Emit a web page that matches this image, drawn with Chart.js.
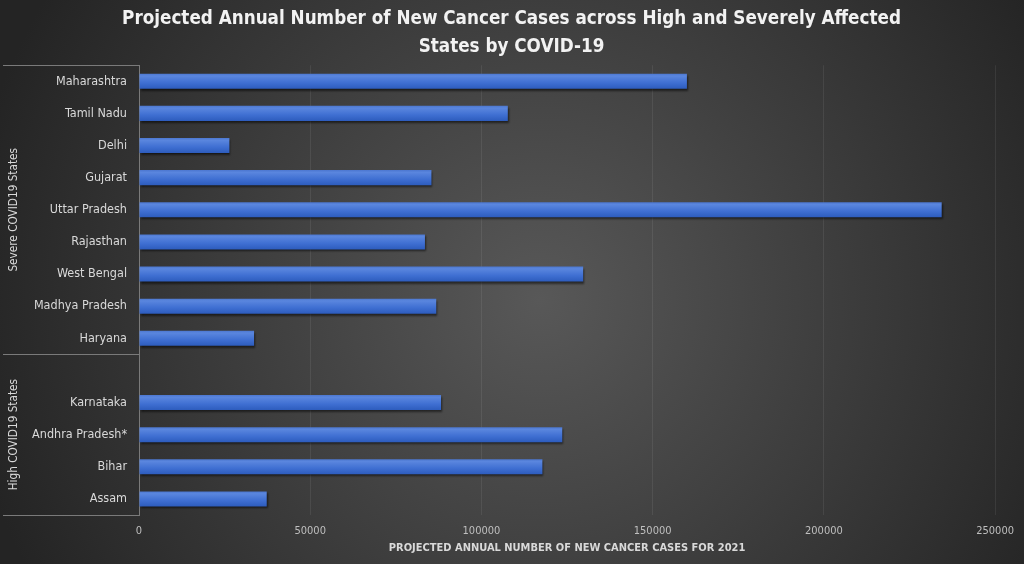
<!DOCTYPE html>
<html>
<head>
<meta charset="utf-8">
<script src="https://cdn.jsdelivr.net/npm/chart.js@4/dist/chart.umd.min.js"></script>
<style>
  html, body { margin: 0; padding: 0; background: #2b2b2b; }
  #wrap { width: 1024px; height: 564px; }
</style>
</head>
<body>
<div id="wrap"><canvas id="casesChart"></canvas></div>
<script>
// Chart data
const states = ['Maharashtra', 'Tamil Nadu', 'Delhi', 'Gujarat', 'Uttar Pradesh', 'Rajasthan',
    'West Bengal', 'Madhya Pradesh', 'Haryana', '', 'Karnataka', 'Andhra Pradesh*', 'Bihar', 'Assam'];
const newCases = [160000, 107700, 26400, 85400, 234400, 83500,
    129700, 86800, 33600, null, 88200, 123600, 117800, 37300];
const groupLabels = ['Severe COVID19 States', 'High COVID19 States'];
const groupStart = [0, 9];
const groupEnd = [8, 13];
const xTicks = [0, 50000, 100000, 150000, 200000, 250000];

const FONT = '"Liberation Sans Narrow", "DejaVu Sans Condensed", "Open Sans", sans-serif';
const BAR_SHARE = 0.47;

// Dark radial background like the Excel style
const backgroundPlugin = {
    id: 'darkBackground',
    beforeDraw(chart) {
        const { ctx, width, height } = chart;
        const g = ctx.createRadialGradient(540, 300, 0, 540, 300, 580);
        g.addColorStop(0, '#585858');
        g.addColorStop(1, '#242424');
        ctx.save();
        ctx.fillStyle = g;
        ctx.fillRect(0, 0, width, height);
        ctx.restore();
    }
};

// Soft shadow under the bars
const barShadowPlugin = {
    id: 'barShadow',
    beforeDatasetsDraw(chart) {
        const ctx = chart.ctx;
        ctx.save();
        ctx.shadowColor = 'rgba(0, 0, 0, 0.55)';
        ctx.shadowBlur = 2;
        ctx.shadowOffsetX = 1;
        ctx.shadowOffsetY = 2;
    },
    afterDatasetsDraw(chart) {
        chart.ctx.restore();
    }
};

// Group brackets and rotated group labels on the left
const groupPlugin = {
    id: 'groupBrackets',
    afterDraw(chart) {
        const { ctx, chartArea } = chart;
        const y = chart.scales.y;
        const half = (y.getPixelForValue(1) - y.getPixelForValue(0)) / 2;
        ctx.save();
        ctx.strokeStyle = '#7a7a7a';
        ctx.lineWidth = 1;
        ctx.fillStyle = '#d9d9d9';
        ctx.font = '11.7px ' + FONT;
        ctx.textAlign = 'center';
        ctx.textBaseline = 'middle';
        groupLabels.forEach((label, i) => {
            const top = y.getPixelForValue(groupStart[i]) - half;
            const bottom = y.getPixelForValue(groupEnd[i]) + half;
            [top, bottom].forEach(py => {
                const yy = Math.round(py) + 0.5;
                ctx.beginPath();
                ctx.moveTo(3, yy);
                ctx.lineTo(chartArea.left, yy);
                ctx.stroke();
            });
            ctx.save();
            ctx.translate(13.5, (top + bottom) / 2);
            ctx.rotate(-Math.PI / 2);
            ctx.fillText(label, 0, 0);
            ctx.restore();
        });
        ctx.restore();
    }
};

function barGradient(context) {
    const chart = context.chart;
    const y = chart.scales.y;
    if (!y || context.dataIndex === undefined) return '#3f6fcc';
    const center = y.getPixelForValue(context.dataIndex);
    const thick = (y.getPixelForValue(1) - y.getPixelForValue(0)) * BAR_SHARE;
    if (!isFinite(center) || !isFinite(thick) || thick <= 0) return '#3f6fcc';
    const g = chart.ctx.createLinearGradient(0, center - thick / 2, 0, center + thick / 2);
    g.addColorStop(0, '#4c77d0');
    g.addColorStop(0.15, '#5a86de');
    g.addColorStop(0.6, '#3f6fd2');
    g.addColorStop(1, '#2d5cbd');
    return g;
}

new Chart(document.getElementById('casesChart'), {
    type: 'bar',
    data: {
        labels: states,
        datasets: [{
            label: 'Projected new cancer cases 2021',
            data: newCases,
            backgroundColor: barGradient,
            borderWidth: 0,
            categoryPercentage: 1,
            barPercentage: BAR_SHARE
        }]
    },
    options: {
        indexAxis: 'y',
        responsive: true,
        maintainAspectRatio: false,
        animation: false,
        // left padding keeps the title centred on the page like the original
        layout: { padding: { top: 0, left: 24, right: 25, bottom: 0 } },
        plugins: {
            legend: { display: false },
            tooltip: { enabled: false },
            title: {
                display: true,
                text: ['Projected Annual Number of New Cancer Cases across High and Severely Affected',
                    'States by COVID-19'],
                color: '#f2f2f2',
                font: { family: FONT, size: 18.7, weight: 'bold', lineHeight: 1.45 },
                padding: { top: 6, bottom: 5 }
            }
        },
        scales: {
            x: {
                min: 0,
                max: 250000,
                afterBuildTicks(scale) {
                    scale.ticks = xTicks.map(v => ({ value: v }));
                },
                afterFit(scale) { scale.height = 49; },
                grid: { color: 'rgba(255, 255, 255, 0.075)', drawTicks: false },
                border: { display: false },
                ticks: {
                    color: '#bfbfbf',
                    font: { family: FONT, size: 11 },
                    padding: 10,
                    maxRotation: 0,
                    callback: (value) => String(value)
                },
                title: {
                    display: true,
                    text: 'PROJECTED ANNUAL NUMBER OF NEW CANCER CASES FOR 2021',
                    color: '#d9d9d9',
                    font: { family: FONT, size: 11, weight: 'bold' },
                    padding: { top: 2, bottom: 9 }
                }
            },
            y: {
                afterFit(scale) { scale.width = 115; },
                grid: { display: false, drawTicks: false },
                border: { display: true, color: '#7a7a7a', width: 1 },
                ticks: {
                    color: '#d9d9d9',
                    font: { family: FONT, size: 12.5 },
                    padding: 12,
                    autoSkip: false
                }
            }
        }
    },
    plugins: [backgroundPlugin, barShadowPlugin, groupPlugin]
});
</script>
</body>
</html>
